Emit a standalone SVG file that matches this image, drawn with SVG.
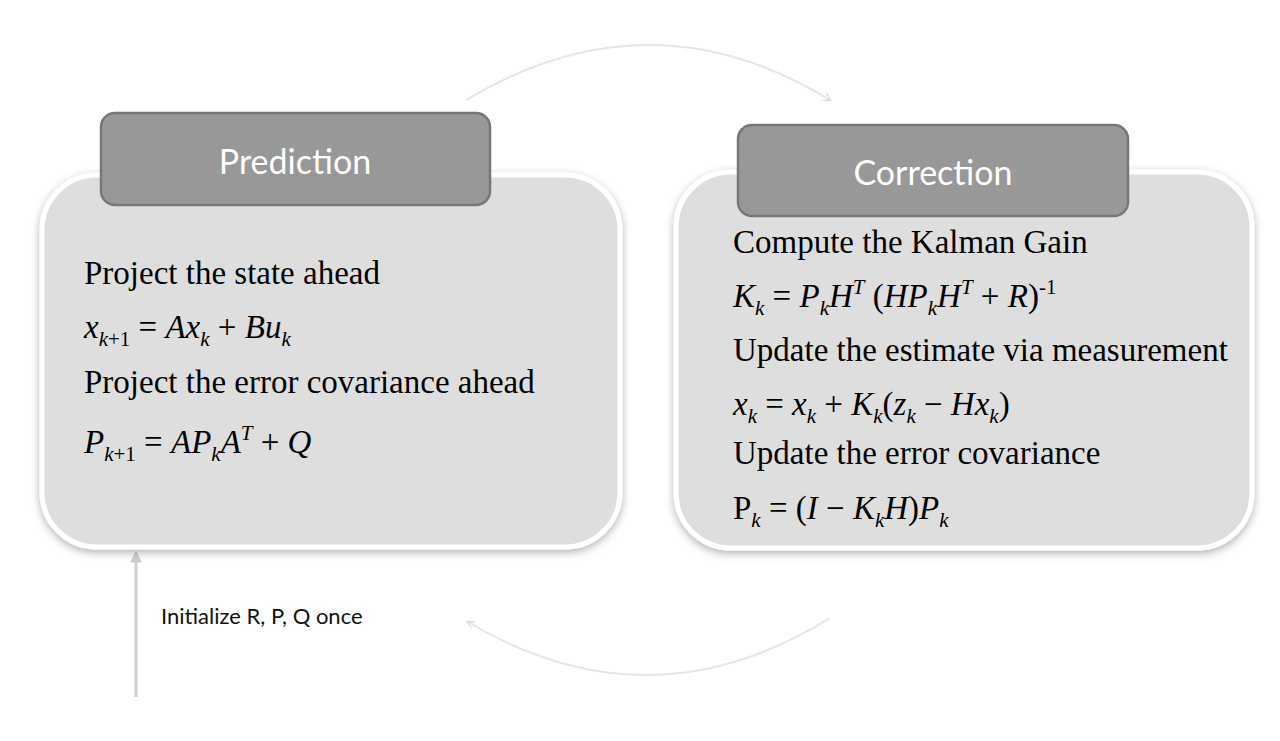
<svg xmlns="http://www.w3.org/2000/svg" width="1280" height="741" viewBox="0 0 1280 741">
<style>
.box{fill:#dedede;stroke:#fff;stroke-width:5}
.hdr{fill:#989898;stroke:#777;stroke-width:2.5}
.ht{font-family:"Lato","Liberation Sans",sans-serif;font-size:34px;fill:#fff;text-anchor:middle}
.t{font-family:"Liberation Serif",serif;font-size:33px;fill:#000}
.m{font-style:italic}
.s{font-size:21px}
.arc{fill:none;stroke:#e6e6e6;stroke-width:2}
.lbl{font-family:"Lato","Liberation Sans",sans-serif;font-size:22px;fill:#111}
</style>
<defs>
<filter id="sh" x="-10%" y="-10%" width="120%" height="120%"><feDropShadow dx="0" dy="3" stdDeviation="4" flood-color="#000" flood-opacity="0.3"/></filter>
<marker id="ah" viewBox="0 0 10 10" refX="8" refY="5" markerWidth="8" markerHeight="8" orient="auto" markerUnits="userSpaceOnUse"><path d="M0,0 L9,5 L0,10" fill="none" stroke="#d8d8d8" stroke-width="1.5"/></marker>
<marker id="ah2" viewBox="0 0 10 10" refX="8" refY="5" markerWidth="12" markerHeight="12" orient="auto" markerUnits="userSpaceOnUse"><path d="M0,0 L10,5 L0,10 z" fill="#cfcfcf"/></marker>
</defs>
<g id="connectors">
<path class="arc" d="M466,100 Q650,-10 830,100" marker-end="url(#ah)"/>
<path class="arc" d="M830,618 Q650,730 468,622" marker-end="url(#ah)"/>
<line x1="136" y1="697" x2="136" y2="553" stroke="#cfcfcf" stroke-width="3" marker-end="url(#ah2)"/>
<text class="lbl" x="161" y="624">Initialize R, P, Q once</text>
</g>
<g id="prediction">
<rect class="box" x="42" y="175" width="578" height="372" rx="55" filter="url(#sh)"/>
<rect class="hdr" x="101" y="113" width="389" height="92" rx="14"/>
<text class="ht" x="295" y="174">Prediction</text>
<text class="t" x="84" y="284">Project the state ahead</text>
<text class="t" x="84" y="338"><tspan class="m">x</tspan><tspan class="s m" dy="8">k</tspan><tspan class="s" dy="0">+1</tspan><tspan dy="-8"> = </tspan><tspan class="m">Ax</tspan><tspan class="s m" dy="8">k</tspan><tspan dy="-8"> + </tspan><tspan class="m">Bu</tspan><tspan class="s m" dy="8">k</tspan></text>
<text class="t" x="84" y="393">Project the error covariance ahead</text>
<text class="t" x="84" y="453"><tspan class="m">P</tspan><tspan class="s m" dy="8">k</tspan><tspan class="s">+1</tspan><tspan dy="-8"> = </tspan><tspan class="m">AP</tspan><tspan class="s m" dy="8">k</tspan><tspan class="m" dy="-8">A</tspan><tspan class="s m" dy="-13">T</tspan><tspan dy="13"> + </tspan><tspan class="m">Q</tspan></text>
</g>
<g id="correction">
<rect class="box" x="676" y="172" width="576" height="376" rx="55" filter="url(#sh)"/>
<rect class="hdr" x="738" y="125" width="390" height="91" rx="14"/>
<text class="ht" x="933" y="185">Correction</text>
<text class="t" x="733" y="253">Compute the Kalman Gain</text>
<text class="t" x="733" y="307"><tspan class="m">K</tspan><tspan class="s m" dy="8">k</tspan><tspan dy="-8"> = </tspan><tspan class="m">P</tspan><tspan class="s m" dy="8">k</tspan><tspan class="m" dy="-8">H</tspan><tspan class="s m" dy="-13">T</tspan><tspan dy="13"> (</tspan><tspan class="m">HP</tspan><tspan class="s m" dy="8">k</tspan><tspan class="m" dy="-8">H</tspan><tspan class="s m" dy="-13">T</tspan><tspan dy="13"> + </tspan><tspan class="m">R</tspan><tspan>)</tspan><tspan class="s" dy="-13">-1</tspan></text>
<text class="t" x="733" y="361">Update the estimate via measurement</text>
<text class="t" x="733" y="415"><tspan class="m">x</tspan><tspan class="s m" dy="8">k</tspan><tspan dy="-8"> = </tspan><tspan class="m">x</tspan><tspan class="s m" dy="8">k</tspan><tspan dy="-8"> + </tspan><tspan class="m">K</tspan><tspan class="s m" dy="8">k</tspan><tspan dy="-8">(</tspan><tspan class="m">z</tspan><tspan class="s m" dy="8">k</tspan><tspan dy="-8"> − </tspan><tspan class="m">Hx</tspan><tspan class="s m" dy="8">k</tspan><tspan dy="-8">)</tspan></text>
<text class="t" x="733" y="464">Update the error covariance</text>
<text class="t" x="733" y="519"><tspan>P</tspan><tspan class="s m" dy="8">k</tspan><tspan dy="-8"> = (</tspan><tspan class="m">I</tspan><tspan> − </tspan><tspan class="m">K</tspan><tspan class="s m" dy="8">k</tspan><tspan class="m" dy="-8">H</tspan><tspan>)</tspan><tspan class="m">P</tspan><tspan class="s m" dy="8">k</tspan></text>
</g>
</svg>
